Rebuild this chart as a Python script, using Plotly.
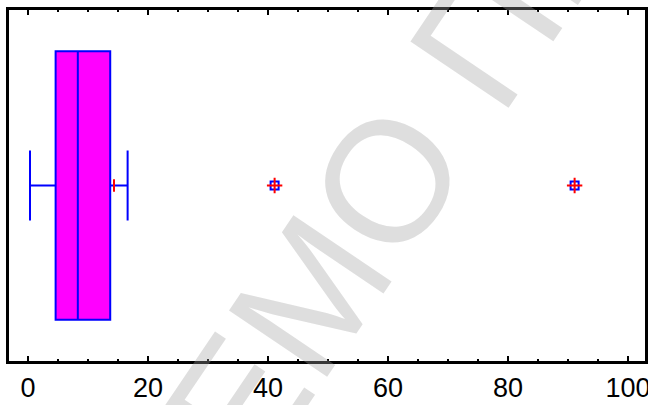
import plotly.graph_objects as go

# Summary statistics of the sample
q1 = [4.6]
median = [8.3]
q3 = [13.7]
lower_whisker = [0.33]
upper_whisker = [16.6]
mean_value = [14.33]
outliers = [41.1, 91.1]

tick_values = [0, 20, 40, 60, 80, 100]
tick_labels = ["0", "20", "40", "60", "80", "100"]

BLUE = "#0000ff"
RED = "#ff0000"

fig = go.Figure()

fig.add_trace(go.Box(
    y=[0],
    q1=q1, median=median, q3=q3,
    lowerfence=lower_whisker, upperfence=upper_whisker,
    orientation="h",
    fillcolor="#ff00ff",
    line=dict(color=BLUE, width=2),
    whiskerwidth=0.26,
    width=1.53,
    boxpoints=False,
    hoverinfo="skip",
    showlegend=False,
))

# mean marker
fig.add_trace(go.Scatter(
    x=mean_value, y=[0] * len(mean_value), mode="markers",
    marker=dict(symbol="line-ns", size=9, line=dict(color=RED, width=2)),
    showlegend=False, hoverinfo="skip",
))

# outside points: blue square with red plus
fig.add_trace(go.Scatter(
    x=outliers, y=[0] * len(outliers), mode="markers",
    marker=dict(symbol="square-open", size=8, color=BLUE, line=dict(color=BLUE, width=2)),
    showlegend=False, hoverinfo="skip",
))
fig.add_trace(go.Scatter(
    x=outliers, y=[0] * len(outliers), mode="markers",
    marker=dict(symbol="cross-thin", size=11, line=dict(color=RED, width=2)),
    showlegend=False, hoverinfo="skip",
))

# diagonal watermark
fig.add_annotation(
    text="ДЕМО ПРОЕКТ",
    xref="paper", yref="paper",
    x=(488 - 9) / 636, y=(361 - 31) / 351,
    xanchor="center", yanchor="middle",
    textangle=-56,
    showarrow=False,
    font=dict(family="Liberation Sans", size=172, color="rgba(160,160,160,0.35)"),
)

fig.update_xaxes(
    range=[-3.17, 102.83],
    tickmode="array", tickvals=tick_values, ticktext=tick_labels,
    ticks="inside", ticklen=5, tickwidth=1.5, tickcolor="black",
    minor=dict(dtick=5, tick0=0, ticks="inside", ticklen=2, tickwidth=1.5, tickcolor="black"),
    showline=True, linecolor="black", linewidth=2.5, mirror="allticks",
    showgrid=False, zeroline=False,
    automargin=False,
    ticklabeloverflow="allow",
    ticklabelstandoff=1,
    tickfont=dict(family="Liberation Sans", size=27, color="black"),
)
fig.update_yaxes(
    range=[-1, 1],
    showticklabels=False, ticks="",
    showline=True, linecolor="black", linewidth=2.5, mirror=True,
    showgrid=False, zeroline=False,
    automargin=False,
)

fig.update_layout(
    width=648, height=405,
    margin=dict(l=9, r=3, t=10, b=44, autoexpand=False),
    paper_bgcolor="white", plot_bgcolor="white",
)

fig.write_html("out.html")
